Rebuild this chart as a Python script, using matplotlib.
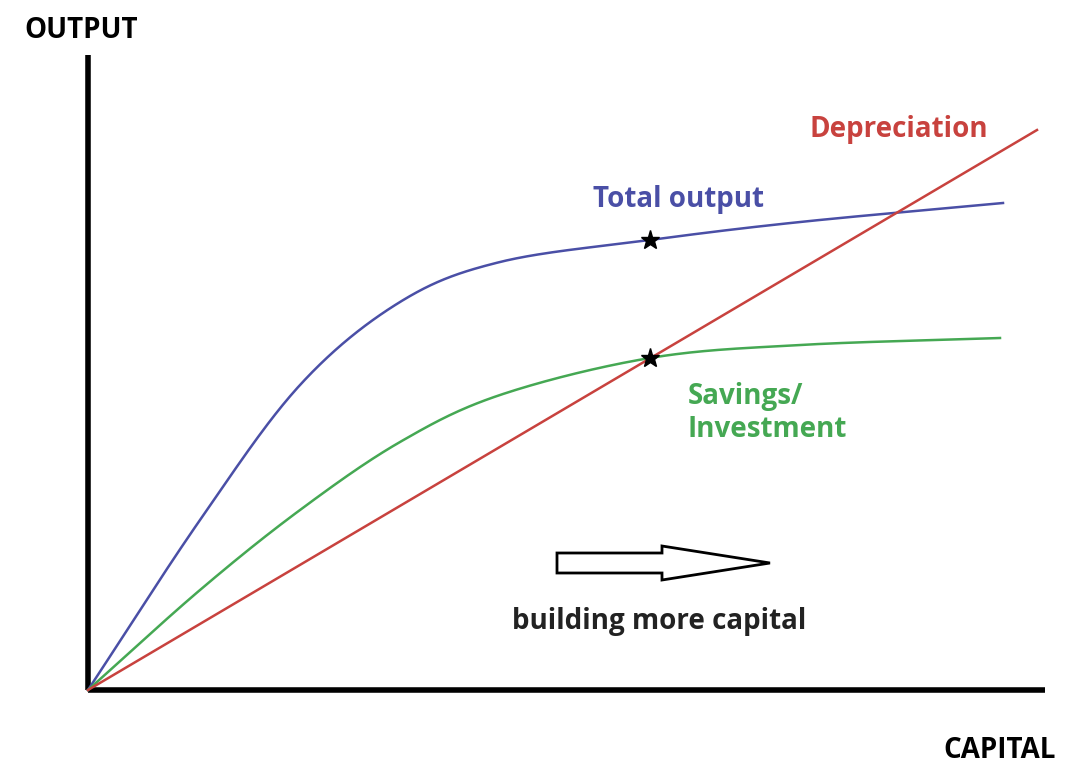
import matplotlib
matplotlib.use("Agg")
import matplotlib.pyplot as plt
from matplotlib.patches import Polygon
import numpy as np

# data (capital, output) in chart units
cap_total = [0, 112, 212, 312, 412, 562, 712, 915]
out_total = [0, 170, 305, 388, 428, 450, 468, 487]
cap_save = [0, 112, 212, 312, 412, 562, 712, 912]
out_save = [0, 100, 180, 248, 295, 332, 345, 352]
cap_dep = [0, 949]
out_dep = [0, 560]
star_cap = [562, 562]
star_out = [450, 332]

BLUE, RED, GREEN = "#4A4FA6", "#C8423E", "#45A853"
plt.rcParams['font.family'] = ['Open Sans', 'DejaVu Sans']

fig = plt.figure(figsize=(10.8, 7.7), dpi=100)
ax = fig.add_axes([0, 0, 1, 1])
ax.set_xlim(-88, 992)
ax.set_ylim(-80, 690)
ax.axis('off')

def smooth(xs, ys):
    xs = np.array(xs, float); ys = np.array(ys, float)
    pts = np.column_stack([xs, ys])
    P = np.vstack([2*pts[0]-pts[1], pts, 2*pts[-1]-pts[-2]])
    out = []
    for i in range(1, len(P) - 2):
        p0, p1, p2, p3 = P[i-1], P[i], P[i+1], P[i+2]
        for t in np.linspace(0, 1, 40, endpoint=False):
            out.append(0.5*((2*p1) + (-p0+p2)*t + (2*p0-5*p1+4*p2-p3)*t**2 + (-p0+3*p1-3*p2+p3)*t**3))
    out.append(P[-2])
    out = np.array(out)
    return out[:, 0], out[:, 1]

ax.plot([0, 0], [0, 635], color='black', lw=4, solid_capstyle='butt')
ax.plot([0, 957], [0, 0], color='black', lw=4, solid_capstyle='butt')

ax.plot(*smooth(cap_total, out_total), color=BLUE, lw=1.8)
ax.plot(*smooth(cap_save, out_save), color=GREEN, lw=1.8)
ax.plot(cap_dep, out_dep, color=RED, lw=1.8)
ax.plot(star_cap, star_out, ls='none', marker='*', ms=14, color='black')

arrow = Polygon([(469, 137), (574, 137), (574, 144), (682, 127), (574, 110),
                 (574, 117), (469, 117)], closed=True, fill=False, lw=2, edgecolor='black')
ax.add_patch(arrow)

fs = 20
ax.text(-64, 660, "OUTPUT", fontsize=fs, fontweight='bold', va='center')
ax.text(855, -60, "CAPITAL", fontsize=fs, fontweight='bold', va='center')
ax.text(722, 560, "Depreciation", fontsize=fs, fontweight='bold', color=RED, va='center')
ax.text(505, 490, "Total output", fontsize=fs, fontweight='bold', color=BLUE, va='center')
ax.text(600, 277, "Savings/\nInvestment", fontsize=fs, fontweight='bold', color=GREEN,
        va='center', linespacing=1.2)
ax.text(424, 68, "building more capital", fontsize=fs, fontweight='bold', color='#222222', va='center')

fig.savefig("out.png", dpi=100)
